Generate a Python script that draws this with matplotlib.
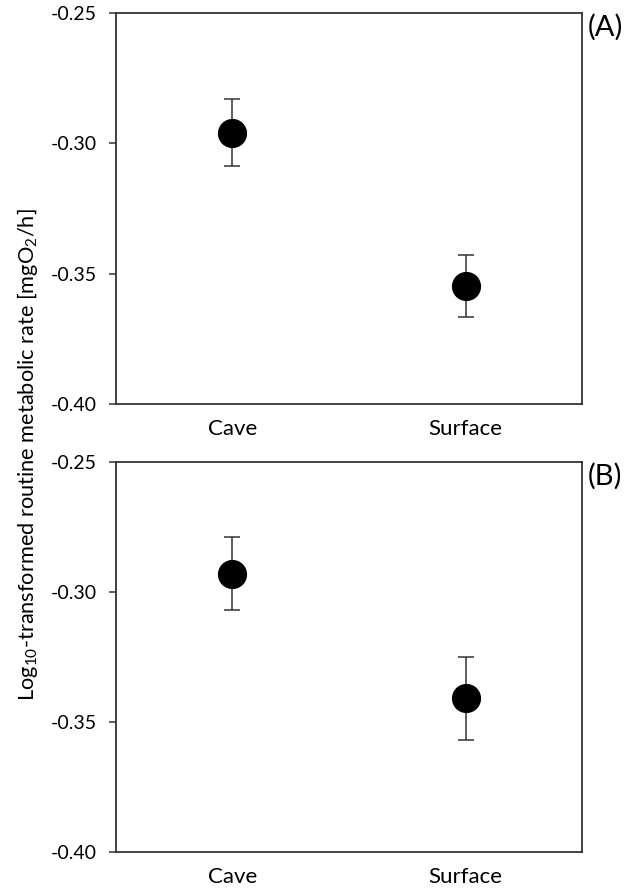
import numpy as np
import matplotlib.pyplot as plt

# log10 routine metabolic rate, mean +/- error bar
groups = ["Cave", "Surface"]
mean_a = [-0.2959, -0.3546]
upper_a = [-0.2828, -0.3427]
lower_a = [-0.3087, -0.3667]
mean_b = [-0.2930, -0.3408]
upper_b = [-0.2788, -0.3250]
lower_b = [-0.3070, -0.3570]
panel_names = ["(A)", "(B)"]
yticks = [-0.40, -0.35, -0.30, -0.25]

plt.rcParams['font.family'] = ['Lato', 'DejaVu Sans']
plt.rcParams['mathtext.fontset'] = 'custom'
plt.rcParams['mathtext.rm'] = 'Lato'
plt.rcParams['mathtext.it'] = 'Lato'
edge = "#333333"

fig = plt.figure(figsize=(6.3, 8.9), dpi=100)
ax_a = fig.add_axes([0.184, 0.546, 0.740, 0.4394])
ax_b = fig.add_axes([0.184, 0.0427, 0.740, 0.4383])

panels = [(ax_a, mean_a, upper_a, lower_a), (ax_b, mean_b, upper_b, lower_b)]
for (ax, m, up, lo), name in zip(panels, panel_names):
    x = np.arange(1, len(groups) + 1)
    m = np.array(m)
    yerr = [m - np.array(lo), np.array(up) - m]
    ax.errorbar(x, m, yerr=yerr, fmt="o", color="black", ms=20,
                ecolor=edge, elinewidth=1.1, capsize=5.5, capthick=1.1)
    ax.set_xlim(0.5, 2.5)
    ax.set_ylim(-0.40, -0.25)
    ax.set_yticks(yticks)
    ax.set_yticklabels([f"{t:.2f}" for t in yticks])
    ax.set_xticks(x)
    ax.set_xticklabels(groups)
    ax.tick_params(axis="y", direction="out", length=5, width=1.1, color=edge,
                   labelsize=14, pad=9)
    ax.tick_params(axis="x", length=0, labelsize=16, pad=11)
    for s in ax.spines.values():
        s.set_color(edge)
        s.set_linewidth(1.3)
    pos = ax.get_position()
    fig.text(0.933, pos.y1 - 0.016, name, fontsize=21, va="center", ha="left")

fig.text(0.043, 0.489, "Log$_{10}$-transformed routine metabolic rate [mgO$_2$/h]",
         rotation=90, va="center", ha="center", fontsize=15.7)

fig.savefig("out.png", dpi=100)
